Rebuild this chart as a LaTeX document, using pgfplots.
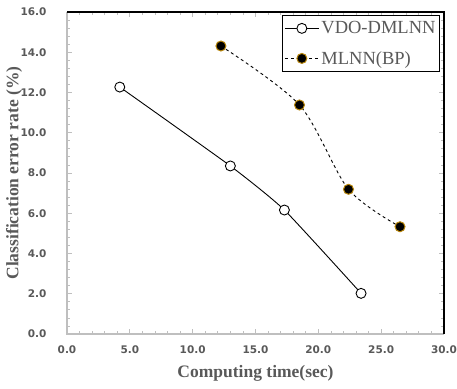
\documentclass[border=0pt]{standalone}
\usepackage{pgfplots}
\pgfplotsset{compat=1.18}
\usepackage{fontspec}
\setmainfont{Liberation Serif}
\newfontfamily\tickfont{DejaVu Sans}
\definecolor{txtgray}{HTML}{595959}
\definecolor{axgray}{HTML}{BFBFBF}
\definecolor{gold}{HTML}{B8860B}
\begin{document}
\begin{tikzpicture}
\begin{axis}[
  name=ax,
  at={(0pt,0pt)}, anchor=south west,
  width=377pt, height=322pt, scale only axis,
  xmin=0, xmax=30, ymin=0, ymax=16,
  xtick={0,5,...,30}, ytick={0,2,...,16},
  minor x tick num=4, minor y tick num=4,
  tick align=inside,
  major tick length=5pt, minor tick length=3pt,
  tick style={axgray, line width=0.8pt},
  axis line style={draw=none},
  /pgf/number format/.cd, fixed, fixed zerofill, precision=1, assume math mode=true,
  /pgfplots/.cd,
  ticklabel style={font=\tickfont\bfseries\fontsize{10.5}{12}\selectfont, text=txtgray},
  xticklabel style={yshift=-8pt},
  yticklabel style={xshift=-17pt},
  xlabel={\bfseries Computing time(sec)},
  ylabel={\bfseries Classification error rate (\%)},
  every axis x label/.style={at={(rel axis cs:0.5,0)}, yshift=-39pt, anchor=center,
    font=\fontsize{17.5}{20}\selectfont, text=txtgray},
  every axis y label/.style={at={(rel axis cs:0,0.5)}, xshift=-53pt, rotate=90, anchor=center,
    font=\fontsize{17.5}{20}\selectfont, text=txtgray},
  legend style={at={([xshift=-4pt,yshift=-3pt]rel axis cs:1,1)}, anchor=north east, draw=black, line width=1pt,
    font=\fontsize{18.5}{20}\selectfont, text=txtgray, inner xsep=2pt, inner ysep=4pt,
    row sep=12pt},
  legend cell align=left,
  legend image code/.code={
    \draw[mark repeat=2,mark phase=2, line width=1.1pt] plot coordinates {(0pt,0pt) (17pt,0pt) (34pt,0pt)};},
  clip=false,
]
% axis frame lines
\draw[axgray, line width=1.3pt] (rel axis cs:0,1) -- (rel axis cs:0,0) -- (rel axis cs:1,0);
\draw[black, line width=1.3pt] (rel axis cs:0,1) -- (rel axis cs:1,1) -- (rel axis cs:1,0);
\addplot[black, line width=0.9pt, smooth, tension=0.3, mark=*, mark size=5pt,
  mark options={fill=white, draw=black, line width=0.9pt, solid}]
  coordinates {(4.2,12.27) (13.0,8.35) (17.3,6.16) (23.4,2.02)};
\addlegendentry{VDO-DMLNN}
\addplot[black, line width=0.9pt, dashed, smooth, tension=0.5, mark=*, mark size=5pt,
  mark options={fill=black, draw=gold, line width=1pt, solid}]
  coordinates {(12.25,14.31) (18.5,11.38) (22.4,7.19) (26.5,5.33)};
\addlegendentry{MLNN(BP)}
\end{axis}
\pgfresetboundingbox
\path[use as bounding box] ([xshift=-67pt,yshift=-54pt]ax.south west) rectangle ++(457pt,388pt);
\end{tikzpicture}
\end{document}
